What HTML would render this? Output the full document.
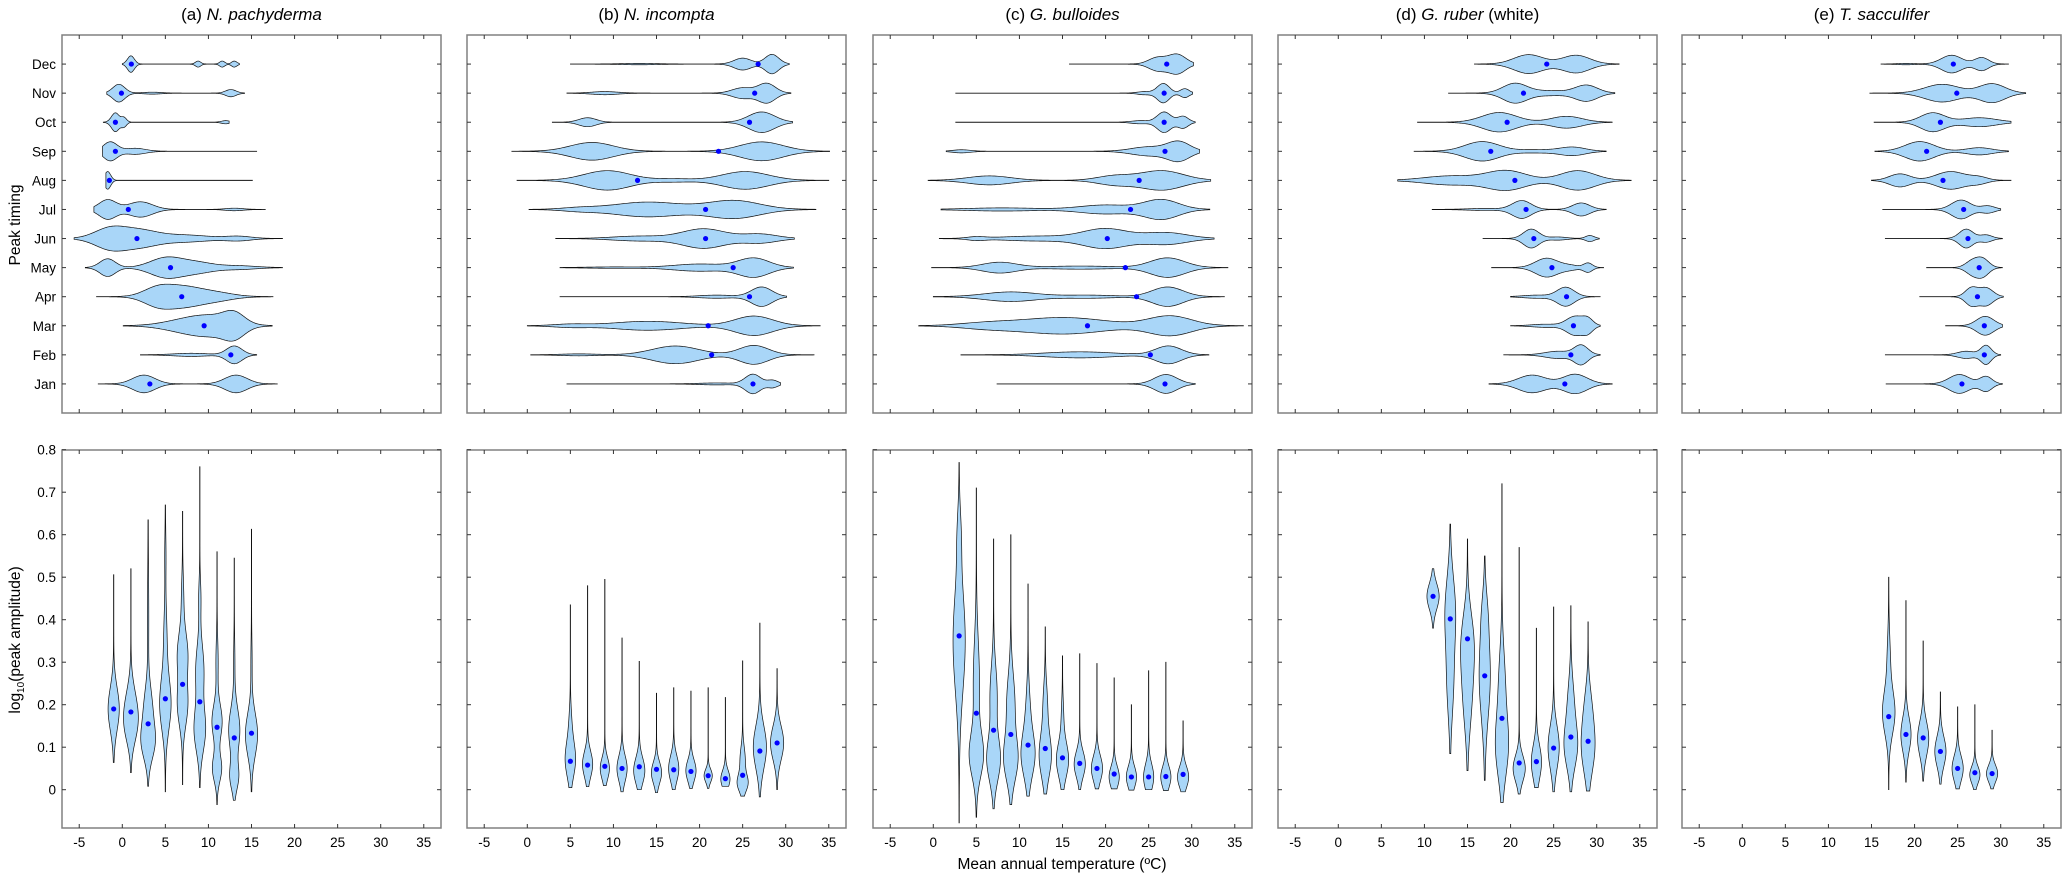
<!DOCTYPE html>
<html><head><meta charset="utf-8"><style>
html,body{margin:0;padding:0;background:#fff;}
svg{display:block;font-family:"Liberation Sans",sans-serif;}
</style></head><body>
<svg id="chart" width="2067" height="881" viewBox="0 0 2067 881" xmlns="http://www.w3.org/2000/svg"></svg>
<script>
// ---------- data ----------
const monthLabels = ["Jan","Feb","Mar","Apr","May","Jun","Jul","Aug","Sep","Oct","Nov","Dec"];
const xTicks = [-5,0,5,10,15,20,25,30,35];
const yTicksBottom = [0,0.1,0.2,0.3,0.4,0.5,0.6,0.7,0.8];
const panelPrefix = ["(a) ","(b) ","(c) ","(d) ","(e) "];
const panelSpecies = ["N. pachyderma","N. incompta","G. bulloides","G. ruber","T. sacculifer"];

// Top row (Jan..Dec): min, max, median temperature; bumps [centre, half-height(category), sigma]
const aTopMin = [-2.8,2.1,0.1,-3,-4.3,-5.6,-3.3,-1.9,-2.3,-2.2,-1.8,0];
const aTopMax = [18,15.6,17.4,17.5,18.6,18.6,16.6,15.1,15.6,12.4,14.2,13.6];
const aTopMed = [3.2,12.6,9.5,6.9,5.6,1.7,0.7,-1.5,-0.8,-0.8,-0.1,1.05];
const aTopBumps = [[[2.5,.3,1.3],[13.2,.3,1.3]],[[8,.05,2],[13,.3,.9]],[[7,.15,2.5],[10.5,.3,2.5],[13,.32,1.2]],[[4,.25,1.6],[7,.33,2.2],[11,.12,2]],[[-1.7,.3,.9],[5,.32,1.8],[8.5,.18,2],[13.5,.06,2]],[[-1.4,.35,1.8],[2,.25,2],[7,.12,3],[13.5,.07,1.5]],[[-1.7,.33,1],[2.1,.26,1.4],[13,.04,1]],[[-1.7,.3,.35]],[[-1.4,.32,.8],[1.5,.1,1.2]],[[-.8,.32,.45],[.2,.15,.3],[12,.05,.5]],[[-.4,.3,.7],[12.6,.12,.6],[3.5,.03,1]],[[1,.28,.4],[8.8,.1,.3],[11.6,.1,.3],[13,.1,.3]]];

const bTopMin = [4.6,0.4,0,3.8,3.8,3.3,0.2,-1.2,-1.8,2.9,4.6,5];
const bTopMax = [29.4,33.3,34,30.1,30.9,31,33.5,35,35.1,30.8,30.6,30.4];
const bTopMed = [26.2,21.4,21,25.8,23.9,20.7,20.7,12.8,22.2,25.8,26.4,26.8];
const bTopBumps = [[[26.2,.33,.9],[28.5,.12,.6],[22,.03,2]],[[17.2,.3,2.7],[26.3,.32,1.7],[6,.03,2]],[[14,.15,4],[26.3,.33,2.2],[5,.05,2]],[[27.2,.33,1.2],[22,.05,2]],[[26.3,.32,1.8],[20,.12,3],[10,.02,3]],[[20.5,.33,2.5],[27,.15,2],[13,.08,3]],[[14,.25,4],[24,.3,3],[6,.05,2]],[[9.3,.33,2.7],[25.3,.3,2.7],[17,.05,2]],[[7.5,.3,2.5],[27.2,.32,2.5]],[[7,.15,1],[27.2,.35,1.5]],[[9,.05,1.5],[25,.18,1.2],[27.8,.33,1]],[[25,.2,1],[28.4,.33,.8],[13,.02,2]]];

const cTopMin = [7.4,3.2,-1.7,0,-0.2,0.7,0.9,-0.6,1.5,2.6,2.6,15.8];
const cTopMax = [30.4,32,36,33.8,34.2,32.6,32.1,32.2,30.9,30.4,30.1,30.2];
const cTopMed = [26.9,25.2,17.9,23.6,22.3,20.2,22.9,23.9,26.9,26.8,26.8,27.1];
const cTopBumps = [[[27,.32,1.3]],[[27.3,.3,1.5],[17,.1,4]],[[15,.28,5],[27.5,.33,2.5],[6,.08,3]],[[9,.16,3],[18,.05,3],[27.2,.33,1.8]],[[7.7,.18,2],[17,.05,4],[27.2,.33,2]],[[5,.05,1],[12,.08,4],[20,.33,2.6],[27,.2,2.5]],[[26.5,.33,2],[20,.15,3],[8,.05,4]],[[6.5,.15,2.5],[26.5,.33,2.5],[21,.15,2]],[[28.5,.32,1.3],[25,.15,2],[3.3,.05,1]],[[26.8,.35,.8],[29,.2,.6],[24,.05,1]],[[26.7,.33,.7],[29.2,.15,.5],[24.5,.05,.8]],[[26,.22,1],[28.3,.33,1]]];

const dTopMin = [17.5,19.2,20,20,17.8,16.8,10.9,6.9,8.8,9.2,12.8,15.8];
const dTopMax = [31.8,30.4,30.4,30.4,30.8,30.3,31.1,34,31.1,31.8,32.1,32.6];
const dTopMed = [26.3,27,27.3,26.5,24.8,22.7,21.8,20.5,17.7,19.6,21.5,24.2];
const dTopBumps = [[[22.5,.3,1.6],[27.5,.33,1.4]],[[28.2,.32,.8],[25.5,.12,1.5]],[[27.5,.32,1],[29,.2,.6],[24,.05,1.5]],[[26.4,.32,1],[23,.05,1.5]],[[24.2,.32,1.3],[29,.15,.5],[27,.07,1]],[[22.4,.32,.9],[29.2,.1,.5],[25.5,.05,1]],[[21.3,.3,1.1],[28.2,.22,1],[17,.03,2]],[[13,.15,3],[19.5,.33,2.3],[27.8,.33,2]],[[16.7,.33,2],[23,.05,2],[27.2,.14,1.5]],[[18.7,.33,2],[26.5,.2,1.8]],[[20.5,.33,1.4],[28.8,.27,1.3],[24.5,.08,2]],[[22.1,.32,1.7],[27.6,.3,1.6]]];

const eTopMin = [16.7,16.6,23.6,20.6,21.4,16.6,16.3,15,15.4,15.3,14.8,16.1];
const eTopMax = [30.2,30,30.2,30.3,30.2,30.2,30,31.2,30.9,31.2,32.9,30.9];
const eTopMed = [25.5,28.1,28.1,27.3,27.5,26.2,25.7,23.3,21.4,23,24.9,24.5];
const eTopBumps = [[[25.2,.32,1.2],[28.3,.25,.7]],[[28.3,.32,.6],[26,.12,1]],[[28.2,.32,1]],[[26.6,.3,.7],[28.3,.3,.8]],[[26.8,.25,.8],[28,.25,.7]],[[26,.32,.8],[28.3,.12,.7]],[[25.4,.32,1.1],[28.5,.12,.8]],[[18.3,.22,1.2],[24.2,.3,1.7],[27.5,.1,1]],[[20.6,.33,1.7],[27.5,.12,1.5]],[[22.1,.32,1.4],[27.5,.15,2]],[[23.2,.3,2],[29,.32,1.5]],[[24.3,.3,1.2],[27.8,.22,.8],[19,.02,1]]];

// Bottom row: temperature bins, min, max, median of log10 amplitude; bumps [centre, half-width(°C), sigma]
const aBotTemp = [-1,1,3,5,7,9,11,13,15];
const aBotMin = [0.064,0.04,0.008,-0.005,0.012,0.005,-0.035,-0.025,-0.005];
const aBotMax = [0.506,0.52,0.635,0.67,0.655,0.76,0.56,0.545,0.613];
const aBotMed = [0.19,0.183,0.155,0.214,0.248,0.207,0.147,0.122,0.133];
const aBotBumps = [[[.19,.55,.05]],[[.19,.55,.05],[.14,.3,.04]],[[.11,.6,.04],[.19,.4,.05],[.4,.05,.1]],[[.2,.55,.06],[.35,.15,.07],[.55,.05,.05]],[[.2,.5,.05],[.32,.5,.05],[.45,.1,.05]],[[.14,.55,.05],[.28,.4,.06],[.45,.1,.04]],[[.16,.5,.04],[.05,.45,.03],[.3,.1,.05]],[[.14,.55,.05],[.03,.4,.03],[.3,.05,.05]],[[.13,.6,.05],[.3,.05,.05]]];

const bBotTemp = [5,7,9,11,13,15,17,19,21,23,25,27,29];
const bBotMin = [0.005,0.007,0.01,-0.005,0,-0.007,0,0.003,0.003,0.008,-0.015,-0.017,0];
const bBotMax = [0.435,0.48,0.495,0.357,0.302,0.227,0.24,0.232,0.24,0.217,0.303,0.392,0.285];
const bBotMed = [0.067,0.058,0.055,0.05,0.054,0.048,0.047,0.043,0.033,0.026,0.034,0.091,0.11];
const bBotBumps = [[[.07,.5,.04],[.15,.12,.04]],[[.06,.5,.03]],[[.05,.45,.025]],[[.05,.5,.03]],[[.045,.55,.03]],[[.04,.5,.025]],[[.05,.5,.03]],[[.045,.5,.025]],[[.033,.4,.015]],[[.025,.45,.02]],[[.015,.5,.02],[.07,.25,.03]],[[.1,.65,.05]],[[.11,.65,.04]]];

const cBotTemp = [3,5,7,9,11,13,15,17,19,21,23,25,27,29];
const cBotMin = [-0.078,-0.065,-0.045,-0.035,-0.015,-0.01,0,0,0.002,0.002,-0.001,0,-0.002,-0.005];
const cBotMax = [0.77,0.71,0.59,0.6,0.484,0.383,0.315,0.32,0.297,0.263,0.2,0.28,0.3,0.162];
const cBotMed = [0.362,0.18,0.14,0.13,0.105,0.097,0.075,0.062,0.05,0.037,0.03,0.03,0.031,0.036];
const cBotBumps = [[[.35,.6,.12],[.6,.15,.06]],[[.08,.65,.05],[.25,.3,.1]],[[.07,.65,.05],[.22,.35,.07]],[[.07,.65,.05],[.2,.4,.07]],[[.08,.65,.05],[.18,.2,.06]],[[.08,.6,.05],[.2,.2,.05]],[[.07,.6,.04],[.17,.1,.04]],[[.06,.55,.03]],[[.05,.55,.03]],[[.03,.5,.025]],[[.03,.5,.025]],[[.03,.5,.03]],[[.03,.5,.025]],[[.03,.55,.025]]];

const dBotTemp = [11,13,15,17,19,21,23,25,27,29];
const dBotMin = [0.38,0.085,0.045,0.022,-0.03,-0.01,0.005,-0.005,-0.005,-0.003];
const dBotMax = [0.52,0.625,0.59,0.55,0.72,0.57,0.38,0.43,0.433,0.395];
const dBotMed = [0.455,0.402,0.355,0.268,0.168,0.063,0.066,0.098,0.124,0.114];
const dBotBumps = [[[.455,.6,.03]],[[.42,.5,.08],[.25,.3,.08]],[[.35,.55,.07],[.22,.4,.08]],[[.27,.55,.1],[.42,.15,.05]],[[.1,.6,.07],[.25,.3,.08]],[[.05,.6,.03]],[[.065,.5,.04]],[[.1,.55,.05]],[[.1,.6,.05],[.2,.3,.06]],[[.1,.65,.06],[.2,.25,.05]]];

const eBotTemp = [17,19,21,23,25,27,29];
const eBotMin = [0,0.018,0.02,0.013,0.002,0,0.002];
const eBotMax = [0.5,0.445,0.35,0.23,0.195,0.2,0.14];
const eBotMed = [0.172,0.13,0.122,0.09,0.05,0.04,0.038];
const eBotBumps = [[[.18,.6,.05],[.3,.15,.06]],[[.13,.5,.04]],[[.12,.55,.04]],[[.09,.55,.035]],[[.05,.55,.03]],[[.035,.5,.02]],[[.038,.55,.02]]];

// ---------- drawing ----------
const NS = "http://www.w3.org/2000/svg";
const svg = document.getElementById("chart");
const panelLeft = [62,467,873,1278,1682];
const panelW = 379;
const topY0 = 35, topY1 = 413, botY0 = 450, botY1 = 828;
const FILL = "#a9d6f8";
function mk(tag, attrs, parent){const e=document.createElementNS(NS,tag);for(const k in attrs)e.setAttribute(k,attrs[k]);(parent||svg).appendChild(e);return e;}
function xS(p,t){return panelLeft[p]+(t+7)*panelW/44;}
function yTop(v){return topY1-v*(topY1-topY0)/13;}
function yBot(v){return 789.7-v*425;}
function dens(bumps,v,base){let s=base;for(const b of bumps){s+=b[1]*Math.exp(-0.5*Math.pow((v-b[0])/b[2],2));}return s;}

const topSets=[[aTopMin,aTopMax,aTopMed,aTopBumps],[bTopMin,bTopMax,bTopMed,bTopBumps],[cTopMin,cTopMax,cTopMed,cTopBumps],[dTopMin,dTopMax,dTopMed,dTopBumps],[eTopMin,eTopMax,eTopMed,eTopBumps]];
const botSets=[[aBotTemp,aBotMin,aBotMax,aBotMed,aBotBumps],[bBotTemp,bBotMin,bBotMax,bBotMed,bBotBumps],[cBotTemp,cBotMin,cBotMax,cBotMed,cBotBumps],[dBotTemp,dBotMin,dBotMax,dBotMed,dBotBumps],[eBotTemp,eBotMin,eBotMax,eBotMed,eBotBumps]];
const letters=["a","b","c","d","e"];

for(let p=0;p<5;p++){
  const L=panelLeft[p], R=L+panelW;
  const tt=mk("text",{x:L+panelW/2,y:20,"text-anchor":"middle","font-size":"17"});
  
  
  const t1=mk("tspan",{},tt); t1.textContent=panelPrefix[p];
  const t2=mk("tspan",{"font-style":"italic"},tt); t2.textContent=panelSpecies[p];
  if(p===3){const t3=mk("tspan",{},tt); t3.textContent=" (white)";}

  for(const row of [0,1]){
    const Y0=row?botY0:topY0, Y1=row?botY1:topY1;
    const g=mk("g",{});
    
    
    if(row===0){
      const [mn,mx,md,bp]=topSets[p];
      const cat=(topY1-topY0)/13;
      for(let i=0;i<12;i++){
        const yc=yTop(i+1); const N=200; let up=[],lo=[];
        for(let k=0;k<=N;k++){const t=mn[i]+(mx[i]-mn[i])*k/N;const w=dens(bp[i],t,0.004)*cat;const x=xS(p,t);up.push(x.toFixed(1)+","+(yc-w).toFixed(2));lo.unshift(x.toFixed(1)+","+(yc+w).toFixed(2));}
        const v=mk("path",{d:"M"+up.join("L")+"L"+lo.join("L")+"Z",fill:FILL,stroke:"#111","stroke-width":"0.7"},g);
        
        
        const d=mk("circle",{cx:xS(p,md[i]),cy:yc,r:2.6,fill:"#0000ff"},g);
        
        
      }
    } else {
      const [tp,mn,mx,md,bp]=botSets[p];
      const unit=panelW/44;
      for(let i=0;i<tp.length;i++){
        const xc=xS(p,tp[i]); const N=200; let le=[],ri=[];
        for(let k=0;k<=N;k++){const v=mn[i]+(mx[i]-mn[i])*k/N;const w=dens(bp[i],v,0.015)*unit*1.15;const y=yBot(v);le.push((xc-w).toFixed(2)+","+y.toFixed(1));ri.unshift((xc+w).toFixed(2)+","+y.toFixed(1));}
        const v=mk("path",{d:"M"+le.join("L")+"L"+ri.join("L")+"Z",fill:FILL,stroke:"#111","stroke-width":"0.7"},g);
        
        
        const d=mk("circle",{cx:xc,cy:yBot(md[i]),r:2.6,fill:"#0000ff"},g);
        
        
      }
    }
    const fr=mk("rect",{x:L,y:Y0,width:panelW,height:Y1-Y0,fill:"none",stroke:"#808080","stroke-width":"1.5"},g);
    
    
    for(const t of xTicks){
      const x=xS(p,t);
      mk("line",{x1:x,y1:Y1,x2:x,y2:Y1-4,stroke:"#333","stroke-width":"1"},g);
      mk("line",{x1:x,y1:Y0,x2:x,y2:Y0+4,stroke:"#333","stroke-width":"1"},g);
      if(row===1){const lb=mk("text",{x:x,y:847,"text-anchor":"middle","font-size":"13.5"},g);lb.textContent=t;
        
        }
    }
    if(row===0){
      for(let i=0;i<12;i++){const y=yTop(i+1);
        mk("line",{x1:L,y1:y,x2:L+4,y2:y,stroke:"#333"},g);mk("line",{x1:R,y1:y,x2:R-4,y2:y,stroke:"#333"},g);
        if(p===0){const lb=mk("text",{x:L-6,y:y+5,"text-anchor":"end","font-size":"13.5"},g);lb.textContent=monthLabels[i];
          
          }}
    } else {
      for(const v of yTicksBottom){const y=yBot(v);
        mk("line",{x1:L,y1:y,x2:L+4,y2:y,stroke:"#333"},g);mk("line",{x1:R,y1:y,x2:R-4,y2:y,stroke:"#333"},g);
        if(p===0){const lb=mk("text",{x:L-6,y:y+5,"text-anchor":"end","font-size":"13.5"},g);lb.textContent=v===0?"0":v.toFixed(1);
          
          }}
    }
  }
}
const yl1=mk("text",{x:0,y:0,transform:"translate(20,225) rotate(-90)","text-anchor":"middle","font-size":"15.5"});
yl1.textContent="Peak timing";


const yl2=mk("text",{x:0,y:0,transform:"translate(20,640) rotate(-90)","text-anchor":"middle","font-size":"15.5"});


const s1=mk("tspan",{},yl2);s1.textContent="log";
const s2=mk("tspan",{"font-size":"10",dy:"4"},yl2);s2.textContent="10";
const s3=mk("tspan",{dy:"-4"},yl2);s3.textContent="(peak amplitude)";
const xl=mk("text",{x:1062,y:869,"text-anchor":"middle","font-size":"15.5"});
xl.textContent="Mean annual temperature (\u00BAC)";


</script>
</body></html>
